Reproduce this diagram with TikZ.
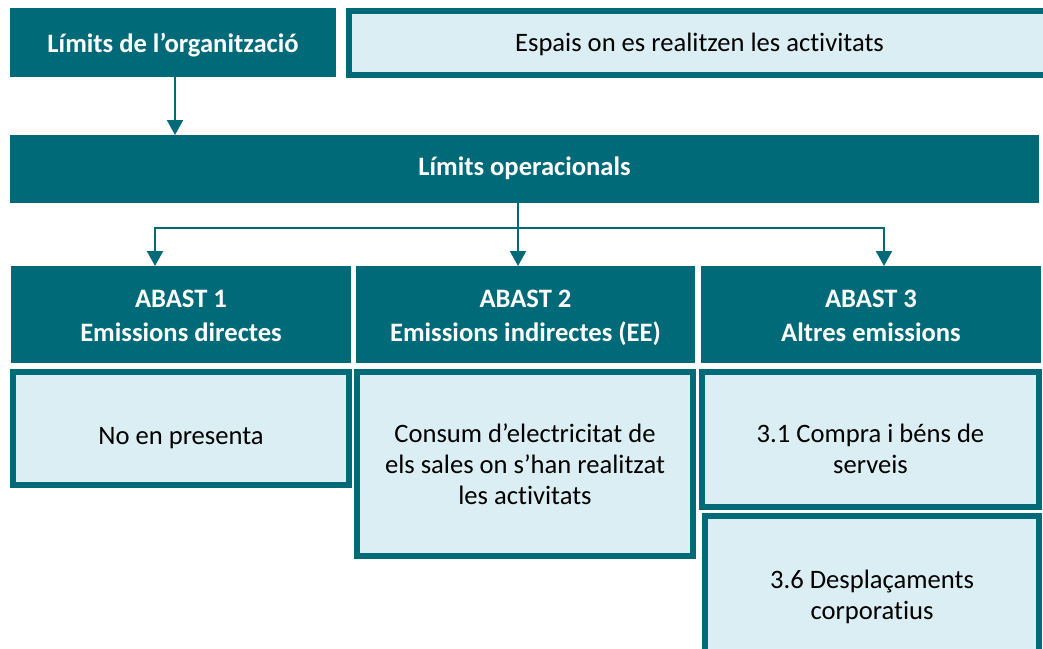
\documentclass[tikz,border=0pt]{standalone}
\usepackage{fontspec}
\setmainfont{Carlito}[Ligatures={TeX,NoCommon}]
\usepackage{tikz}
\usetikzlibrary{arrows.meta}
% text lowered inside its box, box size kept
\newcommand{\lowtxt}[2]{\raisebox{-#1}[\height][\depth]{\begin{tabular}{@{}c@{}}#2\end{tabular}}}

\begin{document}
\begin{tikzpicture}[x=1pt,y=-1pt,line cap=rect,
		darkbox/.style={fill=custcol_teal, text=white, font=\bfseries\fontsize{26.6pt}{34pt}\selectfont, inner sep=0, outer sep=0},
		lightbox/.style={draw=custcol_teal, line width=6pt, fill=custcol_light, text=black, font=\fontsize{26.6pt}{31pt}\selectfont, inner sep=0, outer sep=0},
		arr/.style={draw=custcol_teal, line width=2pt, line cap=butt, -{Triangle[width=16pt,length=15pt]}}]
				\definecolor{custcol_teal}{RGB}{0, 106, 120}
				\definecolor{custcol_light}{RGB}{218, 238, 243}
				\useasboundingbox (0,0) rectangle (1043,648);
				\clip (0,0) rectangle (1043,648);
				% top row
				\node [darkbox, minimum width=326pt, minimum height=69pt] (org) at (173.0,42.5) {\lowtxt{3pt}{L\'imits de l'organitzaci\'o}};
				\node [lightbox, minimum width=701pt, minimum height=64pt] (espais) at (699.5,43.0) {\lowtxt{2pt}{Espais on es realitzen les activitats}};
				\node [darkbox, minimum width=1029pt, minimum height=68pt] (oper) at (524.5,169.0) {\lowtxt{0pt}{L\'imits operacionals}};
				% scopes
				\node [darkbox, minimum width=340pt, minimum height=97pt] (abast1) at (181.0,314.5) {\lowtxt{3pt}{ABAST 1\\Emissions directes}};
				\node [darkbox, minimum width=339pt, minimum height=97pt] (abast2) at (525.5,314.5) {\lowtxt{3pt}{ABAST 2\\Emissions indirectes (EE)}};
				\node [darkbox, minimum width=340pt, minimum height=97pt] (abast3) at (871.0,314.5) {\lowtxt{3pt}{ABAST 3\\Altres emissions}};
				% contents
				\node [lightbox, minimum width=336pt, minimum height=113pt] (cont1) at (181.0,428.5) {\lowtxt{10pt}{No en presenta}};
				\node [lightbox, minimum width=336pt, minimum height=184pt] (cont2) at (525.0,464.0) {\lowtxt{3pt}{Consum d'electricitat de\\els sales on s'han realitzat\\les activitats}};
				\node [lightbox, minimum width=337pt, minimum height=135pt] (cont31) at (870.5,439.5) {\lowtxt{12pt}{3.1 Compra i b\'ens de\\serveis}};
				\node [lightbox, minimum width=334pt, minimum height=160pt] (cont36) at (872.0,596.0) {\lowtxt{2pt}{3.6 Despla\c{c}aments\\corporatius}};
				% arrows
				\coordinate (split) at (518.0,228.0);
				\draw [arr] (org.south -| 175.0,0) -- (oper.north -| 175.0,0);
				\draw [arr] (oper.south -| split) -- (abast2.north -| split);
				\draw [arr] (split) -| ([xshift=-26pt]abast1.north);
				\draw [arr] (split) -| ([xshift=13pt]abast3.north);
			\end{tikzpicture}
\end{document}
